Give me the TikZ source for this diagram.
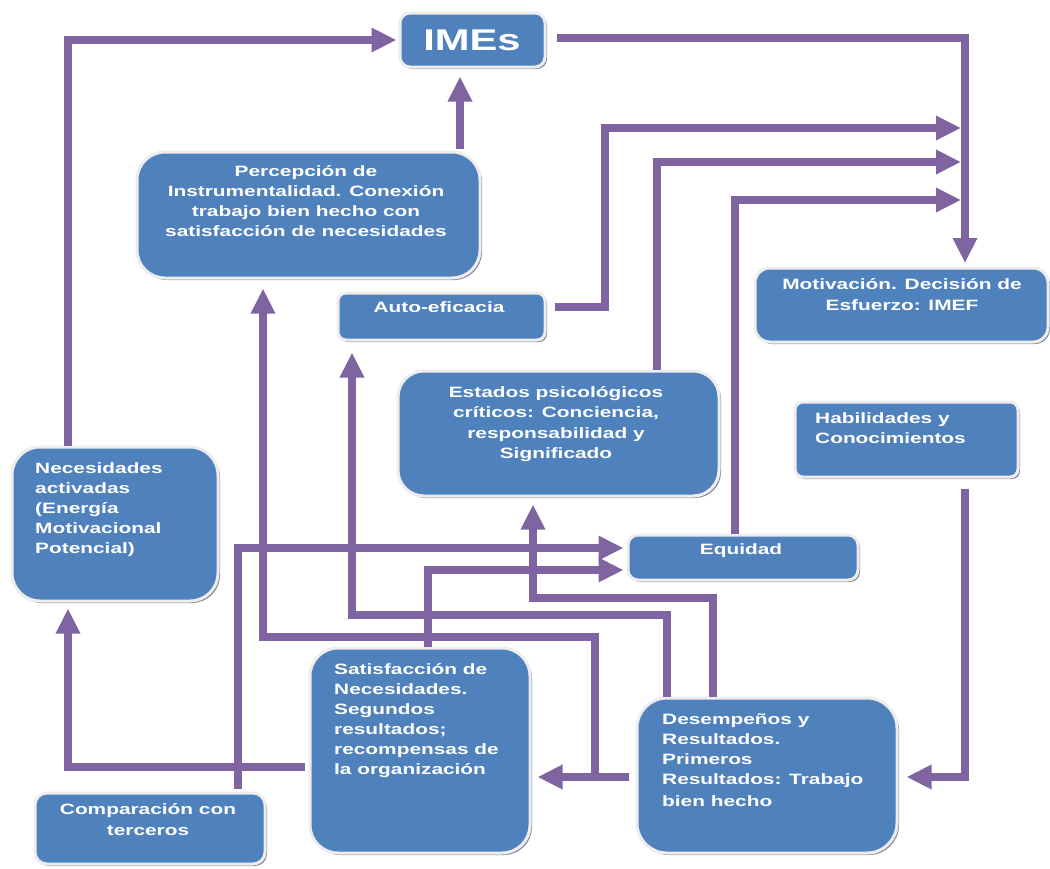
\documentclass[tikz,border=0pt]{standalone}
\usepackage{fontspec}
\newfontfamily\labfont{Liberation Sans}[FakeStretch=1.39]
\usetikzlibrary{arrows.meta,shadows}
\definecolor{boxblue}{HTML}{4F81BD}
\definecolor{connpurple}{HTML}{8064A2}
\definecolor{shadowc}{HTML}{5A6478}
\tikzset{
  box/.style={draw=black!7, line width=3pt, fill=boxblue, inner sep=0pt,
    drop shadow={shadow xshift=2pt, shadow yshift=-2pt, fill=shadowc, opacity=0.75}},
  txt/.style={text=white, inner sep=0pt, font=\labfont\bfseries\fontsize{15}{20}\selectfont},
  conn/.style={draw=connpurple, line width=8pt, -{Triangle[length=25pt,width=23pt]}}
}
\begin{document}
\begin{tikzpicture}[x=1pt,y=-1pt]
\useasboundingbox[fill=white] (0,0) rectangle (1050,868);
% boxes
\node[box, rounded corners=10pt, minimum width=145pt, minimum height=54pt] (imes) at (472.5,40) {};
\node[box, rounded corners=28pt, minimum width=343pt, minimum height=126pt] (perc) at (308.5,215) {};
\node[box, rounded corners=8pt, minimum width=207pt, minimum height=47pt] (auto) at (441.5,316.5) {};
\node[box, rounded corners=15pt, minimum width=293pt, minimum height=74pt] (moti) at (901.5,305) {};
\node[box, rounded corners=26pt, minimum width=321pt, minimum height=125pt] (esta) at (558.5,433.5) {};
\node[box, rounded corners=8pt, minimum width=223pt, minimum height=75pt] (habi) at (906.5,439.5) {};
\node[box, rounded corners=28pt, minimum width=206pt, minimum height=154pt] (nece) at (115,524) {};
\node[box, rounded corners=10pt, minimum width=230pt, minimum height=45pt] (equi) at (743,557.5) {};
\node[box, rounded corners=28pt, minimum width=220pt, minimum height=205pt] (sati) at (420,750.5) {};
\node[box, rounded corners=30pt, minimum width=260pt, minimum height=155pt] (dese) at (767,775.5) {};
\node[box, rounded corners=12pt, minimum width=230pt, minimum height=71pt] (comp) at (150,828.5) {};
% texts
\node[text=white, inner sep=0pt, font=\labfont\bfseries\fontsize{30}{36}\selectfont] (imesT) at (472,40) {IMEs};
\node[txt, anchor=north, align=center] (percT) at (306,165) {Percepción de\\Instrumentalidad. Conexión\\trabajo bien hecho con\\satisfacción de necesidades};
\node[txt, anchor=north] (autoT) at (439,301) {Auto-eficacia};
\node[txt, anchor=north, align=center, font=\labfont\bfseries\fontsize{15}{21.5}\selectfont] (motiT) at (902,278) {Motivación. Decisión de\\Esfuerzo: IMEF};
\node[txt, anchor=north, align=center, font=\labfont\bfseries\fontsize{15}{20.5}\selectfont] (estaT) at (556,386) {Estados psicológicos\\críticos: Conciencia,\\responsabilidad y\\Significado};
\node[txt, anchor=north west, align=left] (habiT) at (815,412) {Habilidades y\\Conocimientos};
\node[txt, anchor=north west, align=left] (neceT) at (35,462) {Necesidades\\activadas\\(Energía\\Motivacional\\Potencial)};
\node[txt, anchor=north] (equiT) at (741,543) {Equidad};
\node[txt, anchor=north west, align=left] (satiT) at (334,663) {Satisfacción de\\Necesidades.\\Segundos\\resultados;\\recompensas de\\la organización};
\node[txt, anchor=north west, align=left] (deseT) at (662,713) {Desempeños y\\Resultados.\\Primeros\\Resultados: Trabajo\\[2pt]bien hecho};
\node[txt, anchor=north, align=center, font=\labfont\bfseries\fontsize{15}{21.5}\selectfont] (compT) at (148,803) {Comparación con\\terceros};
% junction coordinates
\coordinate (mtop) at (965,263);
\coordinate (j1) at (961,128);
\coordinate (j2) at (961,162);
\coordinate (j3) at (961,200);
\coordinate (k1) at (595,777);
% connectors
\draw[conn] ([xshift=-47pt]nece.north) |- ([xshift=-2pt]imes.west);
\draw[conn] ([xshift=151.5pt,yshift=2pt]perc.north) -- ([xshift=-12.5pt,yshift=-8pt]imes.south);
\draw[conn] ([xshift=10pt,yshift=2pt]imes.east) -| (mtop);
\draw[conn] ([xshift=8pt,yshift=9.5pt]auto.east) -- ++(50,0) |- (j1);
\draw[conn] ([xshift=98.5pt]esta.north) |- (j2);
\draw[conn] ([xshift=-8pt]equi.north) |- (j3);
\draw[conn] ([xshift=58.5pt,yshift=-10pt]habi.south) |- ([xshift=8pt,yshift=-1.5pt]dese.east);
\draw[conn] ([xshift=-7pt,yshift=-1.5pt]dese.west) -- ([xshift=6pt]sati.east |- k1);
\draw[conn] (k1) -- ++(0,-140) -| ([xshift=-45.5pt,yshift=-9pt]perc.south);
\draw[conn] ([xshift=-100pt]dese.north) -- ++(0,-82) -| ([xshift=-89.5pt,yshift=-11pt]auto.south);
\draw[conn] ([xshift=-54pt]dese.north) -- ++(0,-99) -| ([xshift=-25.5pt,yshift=-7pt]esta.south);
\draw[conn] ([xshift=8pt]sati.north) |- ([xshift=-3pt,yshift=-12.5pt]equi.west);
\draw[conn] ([xshift=88pt,yshift=3pt]comp.north) |- ([xshift=-3pt,yshift=9.5pt]equi.west);
\draw[conn] ([xshift=-4pt,yshift=-16.5pt]sati.west) -| ([xshift=-47pt,yshift=-6pt]nece.south);
\end{tikzpicture}
\end{document}
